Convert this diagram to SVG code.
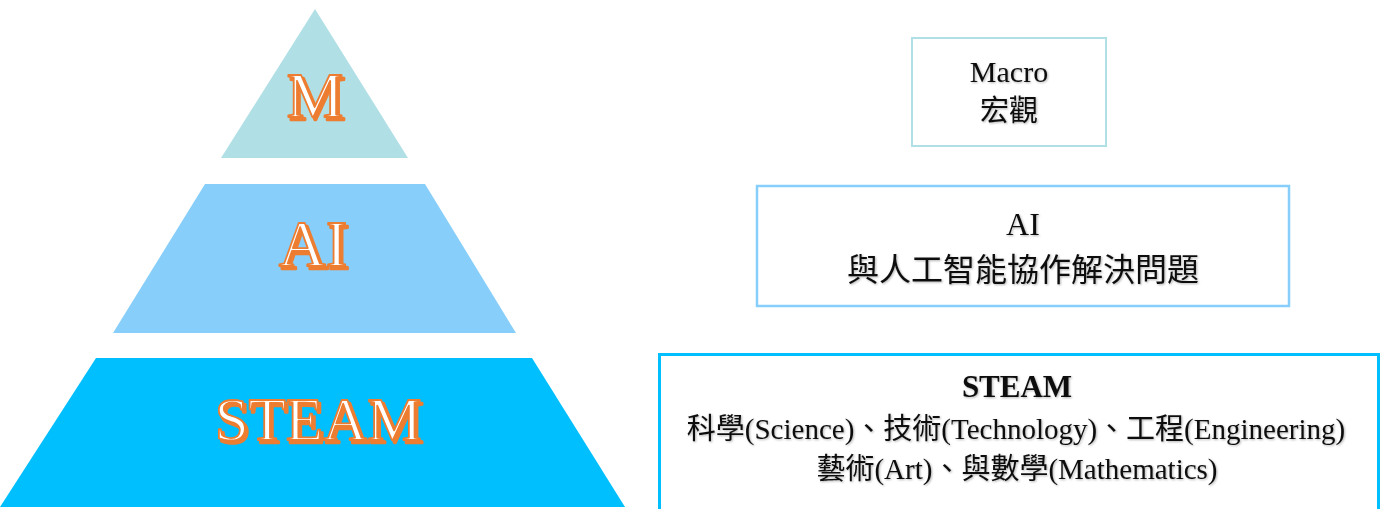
<svg xmlns="http://www.w3.org/2000/svg" width="1384" height="509" viewBox="0 0 1384 509">
<defs>
<filter id="ts" x="-5%" y="-20%" width="110%" height="140%">
<feDropShadow dx="1" dy="1" stdDeviation="0.8" flood-color="#000" flood-opacity="0.3"/>
</filter>
</defs>
<style>
.lbl{font-family:"Liberation Serif","Times New Roman",serif;text-anchor:middle;stroke:#ED7D31;stroke-linejoin:round}
.lbl-sh{fill:#ED7D31;stroke-width:2.6}
.lbl-fg{fill:#FFFFFF;stroke-width:1.8}
.box{fill:#FFFFFF}
.t{font-family:"Liberation Serif","Times New Roman","Noto Sans CJK TC",serif;text-anchor:middle;fill:#111;filter:url(#ts)}
</style>
<rect width="1384" height="509" fill="#FFFFFF"/>
<g id="pyr-m">
<polygon points="315,9 408,158 221,158" fill="#B0DFE5"/>
<text class="lbl lbl-sh" x="317.5" y="119.5" font-size="64">M</text>
<text class="lbl lbl-fg" x="315" y="117" font-size="64">M</text>
</g>
<g id="pyr-ai">
<polygon points="205,184 425,184 516,333 113,333" fill="#87CEFA"/>
<text class="lbl lbl-sh" x="315.5" y="268.5" font-size="65">AI</text>
<text class="lbl lbl-fg" x="313" y="266" font-size="65">AI</text>
</g>
<g id="pyr-steam">
<polygon points="96,358 532,358 625,507 0,507" fill="#00BFFF"/>
<text class="lbl lbl-sh" x="320.5" y="442.5" font-size="61">STEAM</text>
<text class="lbl lbl-fg" x="318" y="440" font-size="61">STEAM</text>
</g>
<g id="box-macro">
<rect class="box" x="912" y="38" width="194" height="108" stroke="#B0DFE5" stroke-width="2"/>
<text class="t" x="1009" y="82" font-size="30">Macro</text>
<text class="t" x="1009" y="121" font-size="29">宏觀</text>
</g>
<g id="box-ai">
<rect class="box" x="757" y="186" width="532" height="120" stroke="#87CEFA" stroke-width="2.5"/>
<text class="t" x="1023" y="235" font-size="32">AI</text>
<text class="t" x="1023" y="281" font-size="32">與人工智能協作解決問題</text>
</g>
<g id="box-steam">
<rect class="box" x="659.5" y="354.5" width="719" height="160" stroke="#00BFFF" stroke-width="3"/>
<text class="t" x="1017" y="397" font-size="31" font-weight="bold">STEAM</text>
<text class="t" x="1016" y="439" font-size="29">科學(Science)、技術(Technology)、工程(Engineering)</text>
<text class="t" x="1017" y="479" font-size="29">藝術(Art)、與數學(Mathematics)</text>
</g>
</svg>
